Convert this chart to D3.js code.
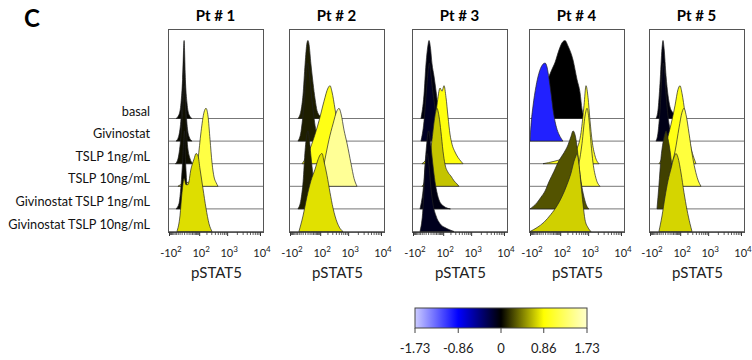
<!DOCTYPE html>
<html><head><meta charset="utf-8">
<script src="https://cdn.jsdelivr.net/npm/d3@7"></script>
<style>body{margin:0;background:#fff}svg{display:block}</style>
</head><body><svg id="c" width="752" height="360"></svg>
<script>
// ---------------- DATA ----------------
const patients = ["Pt # 1", "Pt # 2", "Pt # 3", "Pt # 4", "Pt # 5"];
const conditions = ["basal", "Givinostat", "TSLP 1ng/mL", "TSLP 10ng/mL",
  "Givinostat TSLP 1ng/mL", "Givinostat TSLP 10ng/mL"];
const axisLabel = "pSTAT5";
const majorTicks = [-100, 100, 1000, 10000];
const majorTickLabels = [["-10", "2"], ["10", "2"], ["10", "3"], ["10", "4"]];
const minorTicks = [-90, -80, -70, -60, -50, -40, -30, -20, -10, 0, 10, 20, 30, 40, 50, 60, 70, 80, 90,
  200, 300, 400, 500, 600, 700, 800, 900, 2000, 3000, 4000, 5000, 6000, 7000, 8000, 9000];
const heatTicks = [-1.73, -0.86, 0, 0.86, 1.73];
const heatTickLabels = ["-1.73", "-0.86", "0", "0.86", "1.73"];
const heatColors = ["#ccccff", "#0000ff", "#000000", "#ffff00", "#ffffcc"];

// heat value (colour) of each histogram, rows in order of `conditions`
const pt1Heat = [0.02, 0.03, 0.05, 1.15, 0.03, 0.75];
const pt2Heat = [0.1, 0.1, 0.95, 1.5, 0.1, 0.76];
const pt3Heat = [-0.05, -0.12, 0.92, 0.66, -0.06, -0.1];
const pt4Heat = [0.0, -1.0, 1.0, 1.12, 0.28, 0.7];
const pt5Heat = [-0.05, -0.08, 0.95, 1.12, 0.22, 0.72];

// histograms: [pSTAT5 intensity, % of mode (0..1)]
const pt1Hist = [
  [[-41,0],[-23,0.05],[-13,0.2],[-6,0.5],[0,1],[5,0.5],[12,0.2],[22,0.05],[40,0]],
  [[-41,0],[-25,0.06],[-14,0.25],[-6,0.6],[0,1],[5,0.55],[12,0.22],[22,0.06],[40,0]],
  [[-45,0],[-29,0.06],[-15,0.3],[-5,0.7],[1,1],[7,0.6],[14,0.25],[27,0.07],[46,0]],
  [[-29,0],[-8.5,0.03],[17,0.05],[54,0.1],[88,0.35],[121,0.7],[161,0.95],[192,1],[229,0.9],[271,0.6],[319,0.3],[374,0.12],[437,0.05],[509,0]],
  [[-41,0],[-23,0.07],[-13,0.3],[-5,0.65],[1,1],[6,0.6],[13,0.25],[25,0.06],[45,0]],
  [[-35,0],[-18,0.2],[-8.5,0.5],[0,0.68],[7.7,0.6],[17,0.6],[33,0.8],[54,0.93],[70,1],[88,0.97],[109,0.8],[146,0.55],[192,0.3],[249,0.1],[319,0]]
];
const pt2Hist = [
  [[-35,0],[-18,0.1],[-8.5,0.3],[0,0.7],[7.7,0.97],[12,1],[17,0.95],[27,0.7],[40,0.45],[54,0.25],[70,0.1],[98,0.03],[121,0]],
  [[-35,0],[-18,0.12],[-8,0.35],[2,0.75],[9,1],[17,0.9],[27,0.65],[40,0.4],[54,0.2],[70,0.08],[98,0.02],[121,0]],
  [[-13,0],[7.7,0.1],[40,0.3],[88,0.55],[146,0.8],[210,0.97],[249,1],[294,0.92],[374,0.7],[472,0.45],[593,0.2],[741,0.05],[857,0]],
  [[70,0],[109,0.1],[161,0.35],[229,0.6],[319,0.8],[437,0.97],[509,1],[593,0.93],[741,0.72],[923,0.55],[1231,0.29],[1530,0.1],[1887,0]],
  [[-35,0],[-18,0.12],[-8,0.35],[0,0.75],[8,0.97],[12,1],[17,0.93],[27,0.68],[40,0.42],[54,0.22],[70,0.08],[98,0.02],[121,0]],
  [[-29,0],[-8.5,0.2],[7.7,0.45],[27,0.65],[54,0.8],[78,0.92],[98,0.98],[121,1],[146,0.9],[192,0.72],[249,0.5],[319,0.3],[437,0.12],[550,0.04],[688,0]]
];
const pt3Hist = [
  [[-35,0],[-18,0.3],[-8.5,0.7],[0,0.95],[3.5,1],[10,0.9],[17,0.7],[27,0.55],[40,0.35],[54,0.15],[78,0.05],[109,0]],
  [[-35,0],[-18,0.25],[-8,0.6],[0,0.9],[5,1],[12,0.85],[20,0.65],[30,0.48],[42,0.3],[56,0.14],[80,0.04],[110,0]],
  [[-29,0],[-8.5,0.05],[7.7,0.15],[27,0.4],[46,0.75],[70,0.97],[88,0.93],[109,1],[133,0.85],[161,0.6],[192,0.38],[229,0.25],[294,0.15],[374,0.08],[472,0.03],[550,0]],
  [[-29,0],[-8.5,0.1],[3.5,0.3],[17,0.6],[33,0.9],[46,1],[61,0.9],[78,0.7],[98,0.45],[121,0.28],[161,0.18],[210,0.13],[271,0.07],[345,0.03],[404,0]],
  [[-41,0],[-20,0.3],[-8,0.75],[2,1],[10,0.85],[20,0.6],[30,0.4],[45,0.22],[65,0.1],[100,0.04],[150,0.01],[200,0]],
  [[-41,0],[-23,0.3],[-13,0.8],[-4,1],[3.5,0.85],[12,0.55],[22,0.35],[40,0.2],[70,0.1],[121,0.05],[192,0.02],[271,0]]
];
const pt4Hist = [
  [[-41,0],[-18,0.1],[0,0.35],[12,0.5],[27,0.6],[54,0.72],[88,0.88],[121,0.97],[161,1],[210,0.93],[319,0.75],[437,0.5],[550,0.33],[638,0.12],[741,0.03],[857,0]],
  [[-100,0],[-90,0.2],[-71,0.45],[-48,0.7],[-29,0.87],[-13,0.97],[0,1],[7.7,0.95],[17,0.8],[27,0.62],[40,0.4],[54,0.25],[70,0.15],[98,0.06],[133,0]],
  [[-8.5,0],[46,0.03],[146,0.07],[271,0.12],[437,0.2],[593,0.4],[741,0.75],[857,1],[992,0.85],[1146,0.55],[1323,0.3],[1638,0.1],[2174,0]],
  [[17,0],[146,0.05],[345,0.15],[509,0.3],[638,0.55],[797,0.9],[923,1],[1066,0.85],[1231,0.55],[1421,0.3],[1759,0.1],[2333,0]],
  [[-100,0],[-41,0.08],[-18,0.15],[0,0.23],[17,0.35],[46,0.48],[88,0.62],[146,0.72],[210,0.82],[271,0.93],[319,1],[374,0.95],[437,0.8],[509,0.55],[593,0.35],[741,0.15],[923,0.03],[1066,0]],
  [[-100,0],[-41,0.05],[-4,0.12],[27,0.22],[70,0.33],[121,0.45],[192,0.6],[271,0.75],[345,0.9],[404,0.97],[437,1],[509,0.85],[593,0.6],[688,0.35],[797,0.15],[992,0.05],[1231,0]]
];
const pt5Hist = [
  [[-48,0],[-35,0.1],[-23,0.45],[-13,0.9],[-8.5,1],[-4,0.9],[3.5,0.55],[12,0.3],[22,0.15],[40,0.07],[61,0]],
  [[-48,0],[-35,0.1],[-23,0.4],[-13,0.85],[-7,1],[-2,0.9],[4,0.6],[12,0.32],[22,0.16],[40,0.07],[61,0]],
  [[-29,0],[-8.5,0.1],[7.7,0.3],[27,0.5],[54,0.75],[78,0.95],[98,1],[121,0.9],[161,0.65],[210,0.4],[271,0.2],[345,0.07],[404,0]],
  [[-18,0],[7.7,0.1],[27,0.25],[54,0.45],[88,0.75],[121,0.95],[146,1],[176,0.92],[229,0.68],[294,0.42],[374,0.22],[472,0.08],[593,0]],
  [[-41,0],[-29,0.3],[-18,0.65],[-8.5,0.85],[0,0.97],[3.5,1],[12,0.9],[22,0.75],[33,0.55],[54,0.35],[88,0.15],[133,0.05],[192,0]],
  [[-29,0],[-13,0.2],[0,0.45],[12,0.65],[27,0.8],[46,0.95],[61,1],[78,0.95],[109,0.75],[146,0.5],[192,0.28],[249,0.1],[294,0]]
];
const allHist = [pt1Hist, pt2Hist, pt3Hist, pt4Hist, pt5Hist];
const allHeat = [pt1Heat, pt2Heat, pt3Heat, pt4Heat, pt5Heat];

// ---------------- LAYOUT ----------------
const svg = d3.select("#c");
const font = "Lato, 'Open Sans', sans-serif";
const panelLeft = [168, 289, 412, 529, 649];
const panelW = 95, boxTop = 29, boxBottom = 232;
const rowY = d3.scaleLinear().domain([0, conditions.length - 1]).range([118, 231]);
const hY = d3.scaleLinear().domain([0, 1]).range([0, 78]);
const heat = d3.scaleLinear().domain(heatTicks).range(heatColors).clamp(true);

svg.append("text").attr("x", 24).attr("y", 27).attr("font-family", font)
  .attr("font-weight", 700).attr("font-size", 24).text("C");

// row labels
svg.append("g").selectAll("text").data(conditions).join("text")
  .attr("x", 150).attr("y", (d, i) => rowY(i) - 2.5)
  .attr("text-anchor", "end").attr("font-family", font).attr("font-size", 12.7)
  .attr("fill", "#111").text(d => d);

patients.forEach((pt, p) => {
  const x0 = panelLeft[p];
  const g = svg.append("g").attr("transform", `translate(${x0},0)`);
  const x = d3.scaleSymlog().constant(55).domain([-100, 10000]).range([1, 92]);

  g.append("text").attr("x", panelW / 2).attr("y", 21).attr("text-anchor", "middle")
    .attr("font-family", font).attr("font-weight", 700).attr("font-size", 15).text(pt);

  g.append("rect").attr("x", 0.5).attr("y", boxTop + 0.5).attr("width", panelW)
    .attr("height", boxBottom - boxTop).attr("fill", "#fff").attr("stroke", "#555").attr("stroke-width", 1);

  const clip = `clip${p}`;
  g.append("clipPath").attr("id", clip).append("rect")
    .attr("x", 1).attr("y", boxTop + 1).attr("width", panelW - 1).attr("height", boxBottom - boxTop - 1);
  const inner = g.append("g").attr("clip-path", `url(#${clip})`);

  allHist[p].forEach((hist, r) => {
    const base = rowY(r);
    inner.append("line").attr("x1", 1).attr("x2", panelW).attr("y1", base + 0.5).attr("y2", base + 0.5)
      .attr("stroke", "#777").attr("stroke-width", 1);
    const area = d3.area().curve(d3.curveMonotoneX)
      .x(d => x(d[0])).y0(base + 0.5).y1(d => base + 0.5 - hY(d[1]));
    inner.append("path").datum(hist).attr("d", area)
      .attr("fill", heat(allHeat[p][r])).attr("stroke", "#222").attr("stroke-width", 0.7)
      .attr("stroke-linejoin", "round");
  });

  // axis ticks
  const ax = g.append("g").attr("transform", `translate(0,${boxBottom})`);
  ax.selectAll("line.mi").data(minorTicks).join("line").attr("class", "mi")
    .attr("x1", d => x(d) + 0.5).attr("x2", d => x(d) + 0.5).attr("y1", 0).attr("y2", 3)
    .attr("stroke", "#333").attr("stroke-width", 0.8);
  ax.selectAll("line.ma").data(majorTicks).join("line").attr("class", "ma")
    .attr("x1", d => x(d) + 0.5).attr("x2", d => x(d) + 0.5).attr("y1", 0).attr("y2", 4)
    .attr("stroke", "#333").attr("stroke-width", 1);
  const lab = ax.selectAll("text").data(majorTicks).join("text")
    .attr("x", d => x(d) + 2).attr("y", 25).attr("text-anchor", "middle")
    .attr("font-family", font).attr("font-size", 11).attr("fill", "#222");
  lab.append("tspan").text((d, i) => majorTickLabels[i][0]);
  lab.append("tspan").attr("dy", -5).attr("font-size", 8).text((d, i) => majorTickLabels[i][1]);

  g.append("text").attr("x", panelW / 2 + 1).attr("y", 278).attr("text-anchor", "middle")
    .attr("font-family", font).attr("font-size", 15).attr("fill", "#222").text(axisLabel);
});

// colour bar
const cbX = d3.scaleLinear().domain([-1.73, 1.73]).range([415, 587]);
const defs = svg.append("defs");
const grad = defs.append("linearGradient").attr("id", "heatGrad");
heatTicks.forEach((t, i) => grad.append("stop")
  .attr("offset", (t + 1.73) / 3.46).attr("stop-color", heatColors[i]));
svg.append("rect").attr("x", cbX(-1.73)).attr("y", 308).attr("width", cbX(1.73) - cbX(-1.73))
  .attr("height", 20).attr("fill", "url(#heatGrad)").attr("stroke", "#444").attr("stroke-width", 1);
svg.append("g").selectAll("line").data(heatTicks).join("line")
  .attr("x1", d => cbX(d)).attr("x2", d => cbX(d)).attr("y1", 328).attr("y2", 333)
  .attr("stroke", "#444");
svg.append("g").selectAll("text").data(heatTicks).join("text")
  .attr("x", d => cbX(d)).attr("y", 353).attr("text-anchor", "middle")
  .attr("font-family", font).attr("font-size", 13).attr("fill", "#222")
  .text((d, i) => heatTickLabels[i]);
</script></body></html>
